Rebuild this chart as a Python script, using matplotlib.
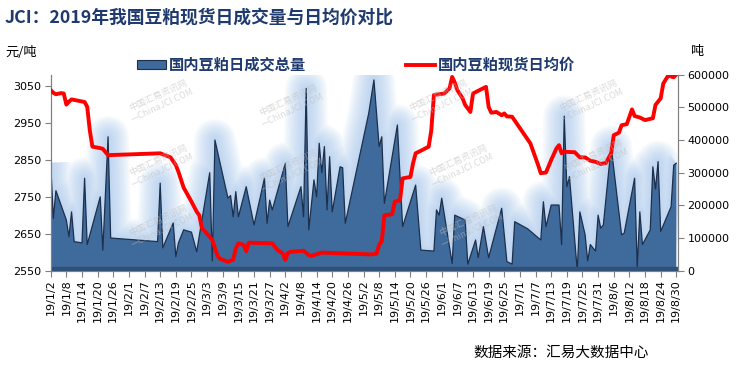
import numpy as np
import pandas as pd
import matplotlib
matplotlib.use("Agg")
import matplotlib.pyplot as plt
import matplotlib.dates as mdates
from matplotlib.patches import Patch
from matplotlib.lines import Line2D

plt.rcParams['font.family'] = ['DejaVu Sans', 'Noto Sans CJK SC']
CJK = ['Noto Sans CJK SC', 'DejaVu Sans']

# daily volume (tons), right axis
vol_dates = ["01-02", "01-03", "01-04", "01-08", "01-09", "01-10", "01-11", "01-14", "01-15", "01-16",
             "01-21", "01-22", "01-24", "01-25", "02-12", "02-13", "02-14", "02-18", "02-19", "02-20",
             "02-22", "02-25", "02-27", "03-04", "03-05", "03-06", "03-11", "03-12", "03-13", "03-14",
             "03-15", "03-18", "03-21", "03-25", "03-26", "03-27", "03-28", "04-02", "04-03", "04-08",
             "04-09", "04-10", "04-11", "04-13", "04-14", "04-15", "04-16", "04-17", "04-18", "04-19",
             "04-20", "04-23", "04-24", "04-25", "05-04", "05-06", "05-08", "05-09", "05-10", "05-15",
             "05-17", "05-22", "05-24", "05-29", "05-30", "05-31", "06-01", "06-05", "06-06", "06-10",
             "06-11", "06-14", "06-15", "06-17", "06-19", "06-24", "06-26", "06-28", "06-29", "07-04",
             "07-09", "07-10", "07-11", "07-13", "07-16", "07-17", "07-18", "07-19", "07-20", "07-23",
             "07-24", "07-26", "07-27", "07-28", "07-30", "07-31", "08-01", "08-02", "08-05", "08-09",
             "08-10", "08-14", "08-15", "08-16", "08-17", "08-20", "08-21", "08-22", "08-23", "08-24",
             "08-28", "08-29", "08-30"]
volume = [330000, 160000, 245000, 155000, 104000, 180000, 89000, 85000, 283000, 80000,
          226000, 63000, 410000, 100000, 89000, 268000, 70000, 146000, 43000, 85000,
          125000, 118000, 58000, 300000, 30000, 400000, 222000, 230000, 165000, 242000,
          165000, 257000, 140000, 283000, 145000, 216000, 186000, 329000, 135000, 257000,
          165000, 558000, 125000, 278000, 226000, 390000, 300000, 380000, 186000, 349000,
          180000, 318000, 315000, 145000, 482000, 584000, 380000, 410000, 206000, 446000,
          135000, 262000, 63000, 60000, 186000, 170000, 222000, 22000, 170000, 155000,
          20000, 94000, 40000, 135000, 40000, 191000, 28000, 20000, 150000, 128000,
          94000, 211000, 135000, 201000, 201000, 80000, 473000, 257000, 288000, 0,
          180000, 110000, 30000, 80000, 60000, 170000, 130000, 140000, 380000, 110000,
          115000, 283000, 10000, 180000, 80000, 125000, 318000, 250000, 334000, 120000,
          196000, 323000, 329000]

# daily average price (yuan/ton), left axis
price_dates = ["01-02", "01-03", "01-04", "01-06", "01-07", "01-08", "01-09", "01-10", "01-15", "01-16",
               "01-17", "01-18", "01-21", "01-22", "01-24", "02-13", "02-17", "02-19", "02-20", "02-22",
               "02-25", "02-27", "02-28", "03-01", "03-04", "03-05", "03-07", "03-08", "03-11", "03-13",
               "03-14", "03-15", "03-17", "03-18", "03-19", "03-28", "03-30", "04-01", "04-02", "04-03",
               "04-04", "04-09", "04-11", "04-12", "04-16", "05-05", "05-07", "05-08", "05-09", "05-10",
               "05-13", "05-14", "05-16", "05-17", "05-20", "05-21", "05-22", "05-24", "05-27", "05-28",
               "05-29", "06-02", "06-04", "06-05", "06-06", "06-07", "06-09", "06-10", "06-12", "06-13",
               "06-16", "06-18", "06-19", "06-20", "06-22", "06-24", "06-25", "06-26", "06-28", "07-05",
               "07-08", "07-09", "07-11", "07-13", "07-15", "07-16", "07-17", "07-18", "07-22", "07-24",
               "07-26", "07-28", "07-30", "08-01", "08-03", "08-05", "08-06", "08-08", "08-09", "08-11",
               "08-13", "08-14", "08-16", "08-18", "08-21", "08-22", "08-24", "08-25", "08-27", "08-28",
               "08-29", "08-30"]
price = [3039, 3032, 3028, 3031, 3030, 3000, 3008, 3014, 3007, 2994,
         2930, 2886, 2882, 2880, 2863, 2868, 2857, 2836, 2818, 2775,
         2737, 2710, 2700, 2665, 2642, 2633, 2590, 2582, 2574, 2580,
         2610, 2624, 2620, 2603, 2626, 2624, 2606, 2597, 2579, 2598,
         2601, 2604, 2592, 2590, 2599, 2594, 2596, 2620, 2630, 2700,
         2703, 2737, 2741, 2800, 2804, 2841, 2868, 2875, 2886, 2930,
         3026, 3030, 3044, 3075, 3060, 3039, 3017, 2999, 2980, 3030,
         3041, 3048, 2994, 2978, 2980, 2971, 2976, 2968, 2967, 2895,
         2836, 2814, 2816, 2850, 2881, 2890, 2868, 2872, 2871, 2857,
         2857, 2848, 2845, 2839, 2842, 2868, 2917, 2924, 2944, 2947,
         2987, 2969, 2965, 2958, 2963, 2999, 3017, 3057, 3080, 3076,
         3074, 3082]

vd = pd.to_datetime(["2019-" + d for d in vol_dates])
pd_ = pd.to_datetime(["2019-" + d for d in price_dates])

navy = '#1f3a6e'
area_c = '#3f6a9c'
grey = '#808080'

fig = plt.figure(figsize=(7.49, 3.71), dpi=100)
ax = fig.add_axes([0.0677, 0.2704, 0.8373, 0.5283])
ax2 = ax.twinx()
ax.set_zorder(ax2.get_zorder() + 1)
ax.patch.set_visible(False)

# soft glow around the area
for w in np.linspace(30, 3, 12):
    ax2.plot(vd, volume, color='#a6c7ee', lw=w, alpha=0.085, solid_joinstyle='round',
             solid_capstyle='butt', zorder=1)
ax2.fill_between(vd, 0, volume, facecolor=area_c, edgecolor='none', zorder=2)
ax2.plot(vd, volume, color='#1c2f4c', lw=0.9, zorder=3)
ax2.axhspan(0, 12000, color='#2f5178', zorder=3)

# watermarks
wm_pos = [(160, 100), (160, 165), (160, 225), (290, 105), (290, 170),
          (440, 100), (460, 165), (470, 225), (590, 100), (595, 160)]
for px, py in wm_pos:
    fig.text(px / 749, 1 - py / 371, "中国汇易资讯网\n—ChinaJCI.COM", fontsize=6.5,
             color='#bdbdbd', alpha=0.55, rotation=25, ha='center', va='center',
             family=CJK, linespacing=1.3, zorder=5)

ax.plot(pd_, price, color='#ff0000', lw=2.8, solid_joinstyle='round', zorder=4)

x0 = pd.Timestamp("2019-01-02")
x1 = pd.Timestamp("2019-08-30")
ax.set_xlim(x0, x1 + pd.Timedelta(hours=14))
ax.set_ylim(2550, 3081)
ax2.set_ylim(0, 600000)
ax.set_yticks(range(2550, 3051, 100))
ax2.set_yticks(range(0, 600001, 100000))

ticks = pd.date_range(x0, x1, freq='6D')
ax.set_xticks(ticks)
ax.set_xticklabels([f"{t.year % 100}/{t.month}/{t.day}" for t in ticks], rotation=90, fontsize=8)
ax.tick_params(axis='y', labelsize=8, length=4, color=grey, pad=3)
ax2.tick_params(axis='y', labelsize=8, length=4, color=grey, pad=3)
ax.tick_params(axis='x', length=4, color=grey, pad=2)

for a in (ax, ax2):
    a.spines['top'].set_visible(False)
    for s in ('left', 'right', 'bottom'):
        a.spines[s].set_color(grey)

handles = [Patch(facecolor=area_c, edgecolor='#1c2f4c', lw=0.8),
           Line2D([0], [0], color='#ff0000', lw=2.8)]
leg = fig.legend(handles, ["国内豆粕日成交总量", "国内豆粕现货日均价"], ncol=2,
                 loc='center left', bbox_to_anchor=(137 / 749, 1 - 65 / 371),
                 frameon=False, borderaxespad=0, borderpad=0, handlelength=1.9,
                 handleheight=0.5, handletextpad=0.2, columnspacing=6.5,
                 prop={'family': CJK, 'size': 11, 'weight': 'bold'})
for t in leg.get_texts():
    t.set_color(navy)

fig.text(5 / 749, 1 - 18 / 371, "JCI：2019年我国豆粕现货日成交量与日均价对比", fontsize=12.8,
         fontweight='bold', color=navy, family=CJK, va='center')
fig.text(5 / 749, 1 - 52 / 371, "元/吨", fontsize=9.5, family=CJK, va='center')
fig.text(690 / 749, 1 - 52 / 371, "吨", fontsize=9.5, family=CJK, va='center')
fig.text(473 / 749, 1 - 353 / 371, "数据来源：汇易大数据中心", fontsize=10.5, family=CJK, va='center')

fig.savefig("out.png", dpi=100)
